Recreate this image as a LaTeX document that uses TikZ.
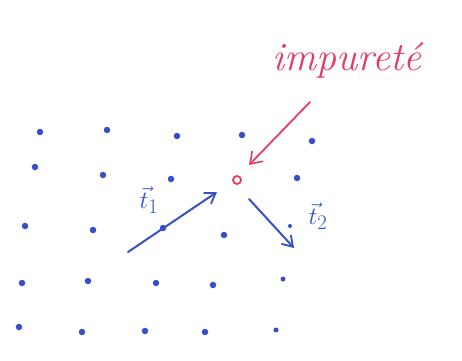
\documentclass[tikz,border=0pt]{standalone}
\usepackage{fontspec}
\usetikzlibrary{arrows.meta}
\definecolor{inkblue}{RGB}{55,80,200}
\definecolor{inkred}{RGB}{228,60,100}
\tikzset{
  atom/.style={circle,fill=inkblue,inner sep=0pt,minimum size=6.5pt},
  vec/.style={draw=inkblue,line width=2pt,line cap=round,-{Straight Barb[length=10pt,width=13pt,line width=1.8pt]}},
  lbl/.style={text=inkblue,font=\fontsize{28}{30}\selectfont\itshape,inner sep=0pt},
}
\begin{document}
\begin{tikzpicture}[x=1pt,y=-1pt]
\useasboundingbox (0,0) rectangle (462,360);
% lattice atoms
\node[atom] (a11) at (40,132) {};
\node[atom] (a12) at (107,130) {};
\node[atom] (a13) at (177,136) {};
\node[atom] (a14) at (242,135) {};
\node[atom] (a15) at (312,141) {};
\node[atom] (a21) at (35,167) {};
\node[atom] (a22) at (103,175) {};
\node[atom] (a23) at (171,179) {};
\node[atom] (a25) at (297,178) {};
\node[atom] (a31) at (25,226) {};
\node[atom] (a32) at (93,230) {};
\node[atom] (a33) at (163,228) {};
\node[atom] (a34) at (224,235) {};
\node[atom,minimum size=4pt] (a35) at (290,226) {};
\node[atom] (a41) at (22,283) {};
\node[atom] (a42) at (88,281) {};
\node[atom] (a43) at (156,283) {};
\node[atom] (a44) at (213,285) {};
\node[atom,minimum size=5pt] (a45) at (283,279) {};
\node[atom] (a51) at (19,327) {};
\node[atom] (a52) at (82,332) {};
\node[atom] (a53) at (145,331) {};
\node[atom] (a54) at (205,332) {};
\node[atom,minimum size=5pt] (a55) at (276,330) {};
% impurity
\node[circle,draw=inkred,line width=1.8pt,inner sep=0pt,minimum size=8pt] (imp) at (237,180) {};
\node[text=inkred,font=\fontsize{40}{42}\selectfont\itshape] (implbl) at (347,60) {impureté};
\coordinate (rs) at (310,102);
\coordinate (re) at (249,165);
\draw[draw=inkred,line width=1.8pt,line cap=round,-{Straight Barb[length=11pt,width=15pt,line width=1.6pt]}] (rs) -- (re);
% translation vectors
\coordinate (t1s) at (128,252);
\coordinate (t1e) at (217,192);
\draw[vec] (t1s) -- (t1e);
\coordinate (t2s) at (249,199);
\coordinate (t2e) at (294,248);
\draw[vec] (t2s) -- (t2e);
\node[lbl] (t1) at (149,200) {$\vec{t}_{1}$};
\node[lbl] (t2) at (318,216) {$\vec{t}_{2}$};
\end{tikzpicture}
\end{document}
